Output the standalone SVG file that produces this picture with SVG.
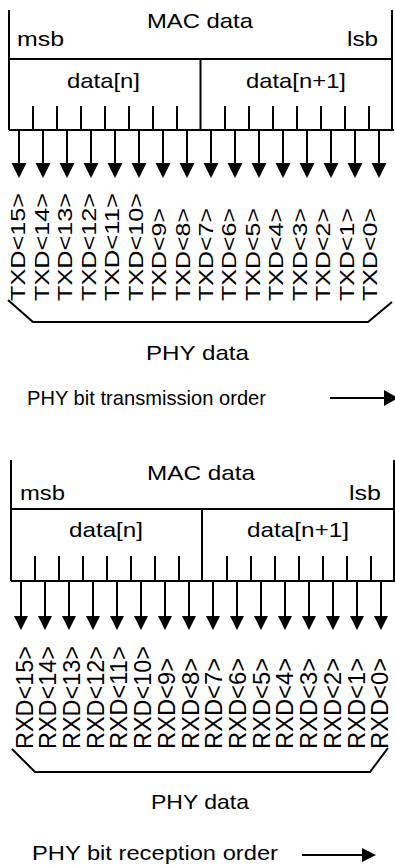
<svg xmlns="http://www.w3.org/2000/svg" xmlns:xlink="http://www.w3.org/1999/xlink" width="395" height="867" viewBox="0 0 395 867">
<style>
.ln{stroke:#000;stroke-width:2;fill:none}
.t{font-family:"Liberation Sans",Arial,sans-serif;font-size:21px;fill:#000}
.lt{font-family:"Liberation Sans",Arial,sans-serif;font-size:20px;fill:#000}
.lr{font-family:"Liberation Sans",Arial,sans-serif;font-size:23px;fill:#000}
</style>
<defs>
<path id="ah1" d="M-7.5,0 L7.5,0 L0,15 Z" fill="#000"/>
<path id="ah2" d="M-7,0 L7,0 L0,14 Z" fill="#000"/>
</defs>
<rect width="395" height="867" fill="#fff"/>

<g id="mac-top">
<path class="ln" d="M9,10 V130 M392,10 V130 M9,59 H392 M9,130 H394 M200.5,59 V130"/>
<path class="ln" d="M33,106V130M57,106V130M81,106V130M105,106V130M129,106V130M153,106V130M177,106V130M225,106V130M249,106V130M273,106V130M297,106V130M321,106V130M345,106V130M369,106V130"/>
<text class="t" x="147" y="28" textLength="106" lengthAdjust="spacingAndGlyphs">MAC data</text>
<text class="t" x="17" y="46" textLength="47" lengthAdjust="spacingAndGlyphs">msb</text>
<text class="t" x="347" y="46" textLength="31" lengthAdjust="spacingAndGlyphs">lsb</text>
<text class="t" x="67" y="88" textLength="73" lengthAdjust="spacingAndGlyphs">data[n]</text>
<text class="t" x="246" y="88" textLength="100" lengthAdjust="spacingAndGlyphs">data[n+1]</text>
</g>

<g id="connectors-top">
<path class="ln" d="M19,131V164M43,131V164M67,131V164M91,131V164M115,131V164M139,131V164M163,131V164M187,131V164M211,131V164M235,131V164M259,131V164M283,131V164M307,131V164M331,131V164M355,131V164M379,131V164"/>
<use xlink:href="#ah1" x="19" y="163"/><use xlink:href="#ah1" x="43" y="163"/><use xlink:href="#ah1" x="67" y="163"/><use xlink:href="#ah1" x="91" y="163"/>
<use xlink:href="#ah1" x="115" y="163"/><use xlink:href="#ah1" x="139" y="163"/><use xlink:href="#ah1" x="163" y="163"/><use xlink:href="#ah1" x="187" y="163"/>
<use xlink:href="#ah1" x="211" y="163"/><use xlink:href="#ah1" x="235" y="163"/><use xlink:href="#ah1" x="259" y="163"/><use xlink:href="#ah1" x="283" y="163"/>
<use xlink:href="#ah1" x="307" y="163"/><use xlink:href="#ah1" x="331" y="163"/><use xlink:href="#ah1" x="355" y="163"/><use xlink:href="#ah1" x="379" y="163"/>
</g>

<g id="txd-labels">
<text class="lt" transform="translate(25.3,301) rotate(-90)" textLength="108" lengthAdjust="spacingAndGlyphs">TXD&lt;15&gt;</text>
<text class="lt" transform="translate(48.8,301) rotate(-90)" textLength="108" lengthAdjust="spacingAndGlyphs">TXD&lt;14&gt;</text>
<text class="lt" transform="translate(72.2,301) rotate(-90)" textLength="108" lengthAdjust="spacingAndGlyphs">TXD&lt;13&gt;</text>
<text class="lt" transform="translate(95.7,301) rotate(-90)" textLength="108" lengthAdjust="spacingAndGlyphs">TXD&lt;12&gt;</text>
<text class="lt" transform="translate(119.1,301) rotate(-90)" textLength="108" lengthAdjust="spacingAndGlyphs">TXD&lt;11&gt;</text>
<text class="lt" transform="translate(142.6,301) rotate(-90)" textLength="108" lengthAdjust="spacingAndGlyphs">TXD&lt;10&gt;</text>
<text class="lt" transform="translate(166,301) rotate(-90)" textLength="93" lengthAdjust="spacingAndGlyphs">TXD&lt;9&gt;</text>
<text class="lt" transform="translate(189.5,301) rotate(-90)" textLength="93" lengthAdjust="spacingAndGlyphs">TXD&lt;8&gt;</text>
<text class="lt" transform="translate(212.9,301) rotate(-90)" textLength="93" lengthAdjust="spacingAndGlyphs">TXD&lt;7&gt;</text>
<text class="lt" transform="translate(236.4,301) rotate(-90)" textLength="93" lengthAdjust="spacingAndGlyphs">TXD&lt;6&gt;</text>
<text class="lt" transform="translate(259.8,301) rotate(-90)" textLength="93" lengthAdjust="spacingAndGlyphs">TXD&lt;5&gt;</text>
<text class="lt" transform="translate(283.3,301) rotate(-90)" textLength="93" lengthAdjust="spacingAndGlyphs">TXD&lt;4&gt;</text>
<text class="lt" transform="translate(306.7,301) rotate(-90)" textLength="93" lengthAdjust="spacingAndGlyphs">TXD&lt;3&gt;</text>
<text class="lt" transform="translate(330.2,301) rotate(-90)" textLength="93" lengthAdjust="spacingAndGlyphs">TXD&lt;2&gt;</text>
<text class="lt" transform="translate(353.6,301) rotate(-90)" textLength="93" lengthAdjust="spacingAndGlyphs">TXD&lt;1&gt;</text>
<text class="lt" transform="translate(377.1,301) rotate(-90)" textLength="93" lengthAdjust="spacingAndGlyphs">TXD&lt;0&gt;</text>
</g>

<g id="phy-top">
<path class="ln" d="M8,300 L33,322 H368 L392,302"/>
<text class="t" x="146" y="360" textLength="103" lengthAdjust="spacingAndGlyphs">PHY data</text>
<text class="t" x="27" y="405" textLength="239" lengthAdjust="spacingAndGlyphs">PHY bit transmission order</text>
<path class="ln" d="M330,398 H387"/>
<path d="M384,390 L398,398 L384,406 Z" fill="#000"/>
</g>

<g id="mac-bottom">
<path class="ln" d="M11,460 V581 M394,460 V581 M11,509 H394 M11,581 H395 M202,509 V581"/>
<path class="ln" d="M35,556V581M59,556V581M83,556V581M107,556V581M131,556V581M155,556V581M179,556V581M227,556V581M251,556V581M275,556V581M299,556V581M323,556V581M347,556V581M371,556V581"/>
<text class="t" x="147" y="480" textLength="108" lengthAdjust="spacingAndGlyphs">MAC data</text>
<text class="t" x="20" y="500" textLength="45" lengthAdjust="spacingAndGlyphs">msb</text>
<text class="t" x="349" y="500" textLength="32" lengthAdjust="spacingAndGlyphs">lsb</text>
<text class="t" x="69" y="537" textLength="74" lengthAdjust="spacingAndGlyphs">data[n]</text>
<text class="t" x="247" y="537" textLength="102" lengthAdjust="spacingAndGlyphs">data[n+1]</text>
</g>

<g id="connectors-bottom">
<path class="ln" d="M21,582V617M45,582V617M69,582V617M93,582V617M117,582V617M141,582V617M165,582V617M189,582V617M213,582V617M237,582V617M261,582V617M285,582V617M309,582V617M333,582V617M357,582V617M381,582V617"/>
<use xlink:href="#ah2" x="21" y="616"/><use xlink:href="#ah2" x="45" y="616"/><use xlink:href="#ah2" x="69" y="616"/><use xlink:href="#ah2" x="93" y="616"/>
<use xlink:href="#ah2" x="117" y="616"/><use xlink:href="#ah2" x="141" y="616"/><use xlink:href="#ah2" x="165" y="616"/><use xlink:href="#ah2" x="189" y="616"/>
<use xlink:href="#ah2" x="213" y="616"/><use xlink:href="#ah2" x="237" y="616"/><use xlink:href="#ah2" x="261" y="616"/><use xlink:href="#ah2" x="285" y="616"/>
<use xlink:href="#ah2" x="309" y="616"/><use xlink:href="#ah2" x="333" y="616"/><use xlink:href="#ah2" x="357" y="616"/><use xlink:href="#ah2" x="381" y="616"/>
</g>

<g id="rxd-labels">
<text class="lr" transform="translate(32.5,749) rotate(-90)" textLength="103" lengthAdjust="spacingAndGlyphs">RXD&lt;15&gt;</text>
<text class="lr" transform="translate(56.2,749) rotate(-90)" textLength="103" lengthAdjust="spacingAndGlyphs">RXD&lt;14&gt;</text>
<text class="lr" transform="translate(79.9,749) rotate(-90)" textLength="103" lengthAdjust="spacingAndGlyphs">RXD&lt;13&gt;</text>
<text class="lr" transform="translate(103.7,749) rotate(-90)" textLength="103" lengthAdjust="spacingAndGlyphs">RXD&lt;12&gt;</text>
<text class="lr" transform="translate(127.4,749) rotate(-90)" textLength="103" lengthAdjust="spacingAndGlyphs">RXD&lt;11&gt;</text>
<text class="lr" transform="translate(151.1,749) rotate(-90)" textLength="103" lengthAdjust="spacingAndGlyphs">RXD&lt;10&gt;</text>
<text class="lr" transform="translate(174.8,749) rotate(-90)" textLength="91" lengthAdjust="spacingAndGlyphs">RXD&lt;9&gt;</text>
<text class="lr" transform="translate(198.5,749) rotate(-90)" textLength="91" lengthAdjust="spacingAndGlyphs">RXD&lt;8&gt;</text>
<text class="lr" transform="translate(222.3,749) rotate(-90)" textLength="91" lengthAdjust="spacingAndGlyphs">RXD&lt;7&gt;</text>
<text class="lr" transform="translate(246,749) rotate(-90)" textLength="91" lengthAdjust="spacingAndGlyphs">RXD&lt;6&gt;</text>
<text class="lr" transform="translate(269.7,749) rotate(-90)" textLength="91" lengthAdjust="spacingAndGlyphs">RXD&lt;5&gt;</text>
<text class="lr" transform="translate(293.4,749) rotate(-90)" textLength="91" lengthAdjust="spacingAndGlyphs">RXD&lt;4&gt;</text>
<text class="lr" transform="translate(317.1,749) rotate(-90)" textLength="91" lengthAdjust="spacingAndGlyphs">RXD&lt;3&gt;</text>
<text class="lr" transform="translate(340.9,749) rotate(-90)" textLength="91" lengthAdjust="spacingAndGlyphs">RXD&lt;2&gt;</text>
<text class="lr" transform="translate(364.6,749) rotate(-90)" textLength="91" lengthAdjust="spacingAndGlyphs">RXD&lt;1&gt;</text>
<text class="lr" transform="translate(388.3,749) rotate(-90)" textLength="91" lengthAdjust="spacingAndGlyphs">RXD&lt;0&gt;</text>
</g>

<g id="phy-bottom">
<path class="ln" d="M12,749 L35,772 H370 L388,748"/>
<text class="t" x="151" y="809" textLength="98" lengthAdjust="spacingAndGlyphs">PHY data</text>
<text class="t" x="32" y="860" textLength="246" lengthAdjust="spacingAndGlyphs">PHY bit reception order</text>
<path class="ln" d="M302,855 H365"/>
<path d="M362,848 L376,855 L362,862 Z" fill="#000"/>
</g>
</svg>
